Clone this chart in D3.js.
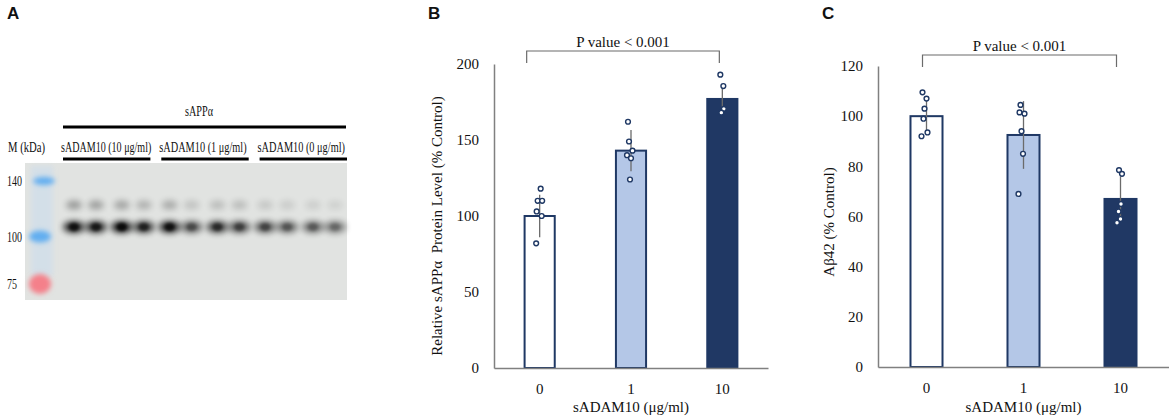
<!DOCTYPE html>
<html>
<head>
  <meta charset="utf-8">
  <script src="https://d3js.org/d3.v7.min.js"></script>
  <style>
  body { margin:0; background:#fff; }
  text { font-family: "Liberation Serif", "Times New Roman", serif; fill:#111; white-space:pre; }
  .panel { font-family: "Liberation Sans", Arial, sans-serif; font-weight:bold; font-size:17px; }
  .axis text { font-size:15px; font-family: "Liberation Serif", serif; fill:#111; }
  .axis path { stroke:#808080; stroke-width:1.5; }
  </style>
</head>
<body>
<script>

  // ---- data ----
  var doses = ["0", "1", "10"];

  var sappMean = [100, 143, 177];
  var sappSd = [14, 13.5, 10];
  var sappPoints = [
    [118, 110, 110, 103, 100, 82],
    [162, 149, 143, 140, 138, 124],
    [193, 185.5, 170.5, 168]
  ];
  var sappTicks = [0, 50, 100, 150, 200];

  var abMean = [100, 92.5, 67];
  var abSd = [7, 13.5, 9];
  var abPoints = [
    [109.5, 107, 103, 99, 93.5, 92],
    [104.5, 101.5, 101, 94, 85, 69],
    [78.5, 77, 65, 62, 59, 57.5]
  ];
  var abTicks = [0, 20, 40, 60, 80, 100, 120];

  // blot
  var groups = ["sADAM10 (10 μg/ml)", "sADAM10 (1 μg/ml)", "sADAM10 (0 μg/ml)"];
  var markerKDa = [140, 100, 75];
  var mainBand = [0.95, 0.9, 1.0, 0.85, 0.95, 0.65, 0.8, 0.7, 0.68, 0.6, 0.58, 0.52];
  var upperBand = [0.32, 0.3, 0.28, 0.22, 0.25, 0.14, 0.17, 0.17, 0.12, 0.1, 0.09, 0.08];

  var barFill = ["#ffffff", "#b4c7e7", "#203864"];
  var navy = "#1f3864";

  var svg = d3.select("body").append("svg")
    .attr("width", 1169)
    .attr("height", 419);

  var defs = svg.append("defs");
  function blur(id, s) {
    defs.append("filter").attr("id", id).attr("x", "-80%").attr("y", "-120%").attr("width", "260%").attr("height", "340%")
      .append("feGaussianBlur").attr("stdDeviation", s);
  }
  blur("blur", 3.4);
  blur("blur2", 2.4);
  blur("blur3", 1.6);

  // squeeze a label horizontally so it spans `w` pixels from x
  function fitText(x, y, w, str) {
    var t = svg.append("text").style("font-size", "15px").text(str);
    var k = w / t.node().getComputedTextLength();
    t.attr("transform", "translate(" + x + "," + y + ") scale(" + k + ",1)");
    return t;
  }

  // ---------- panel A: blot ----------
  svg.append("text").attr("class", "panel").attr("x", 7).attr("y", 19).text("A");

  var kda = d3.scaleLog().domain([75, 140]).range([284, 181]);
  var pair = d3.scalePoint().domain(d3.range(6)).range([85, 324]);
  var laneX = function(i) { return pair(Math.floor(i / 2)) + (i % 2 ? 11 : -11); };

  svg.append("rect").attr("x", 25).attr("y", 163).attr("width", 322).attr("height", 137)
    .attr("fill", "#e1e3e1");
  // faint marker smear
  svg.append("rect").attr("x", 31).attr("y", 166).attr("width", 22).attr("height", 110)
    .attr("fill", "#c9dcee").attr("opacity", 0.55).attr("filter", "url(#blur2)");

  svg.selectAll(".mk").data(markerKDa).enter().append("ellipse")
    .attr("cx", d => d === 140 ? 44 : 40).attr("cy", d => kda(d))
    .attr("rx", 11).attr("ry", d => d === 75 ? 10 : (d === 100 ? 6 : 4))
    .attr("fill", d => d === 75 ? "#f4808a" : "#62aef0")
    .attr("filter", "url(#blur2)");

  markerKDa.forEach(function(d) {
    fitText(7, kda(d) + 5, d === 75 ? 10 : 15, String(d));
  });

  svg.selectAll(".ub").data(upperBand).enter().append("ellipse")
    .attr("cx", (d, i) => laneX(i)).attr("cy", kda(121))
    .attr("rx", 8).attr("ry", 4.5)
    .attr("fill", "#000").attr("opacity", d => d)
    .attr("filter", "url(#blur)");

  svg.selectAll(".mb").data(mainBand).enter().append("ellipse")
    .attr("cx", (d, i) => laneX(i)).attr("cy", kda(106))
    .attr("rx", 11).attr("ry", 6)
    .attr("fill", "#000").attr("opacity", d => d * 0.85)
    .attr("filter", "url(#blur)");

  svg.selectAll(".core").data(mainBand).enter().append("ellipse")
    .attr("cx", (d, i) => laneX(i)).attr("cy", kda(106))
    .attr("rx", 5).attr("ry", 4)
    .attr("fill", "#000").attr("opacity", d => d * d * 0.8)
    .attr("filter", "url(#blur3)");

  fitText(8, 152, 37, "M (kDa)");
  fitText(185, 116, 28, "sAPPα");
  svg.append("line").attr("x1", 63).attr("x2", 346).attr("y1", 127).attr("y2", 127)
    .attr("stroke", "#000").attr("stroke-width", 3);

  var gx = d3.scaleBand().domain(groups).range([61, 350]).paddingInner(0.06);
  groups.forEach(function(d, i) {
    fitText(gx(d), 152, gx.bandwidth() - (i === 0 ? 2 : 5), d);
  });
  svg.selectAll(".gline").data(groups).enter().append("line")
    .attr("x1", d => gx(d) + 2).attr("x2", d => gx(d) + gx.bandwidth() - 3)
    .attr("y1", 159).attr("y2", 159)
    .attr("stroke", "#000").attr("stroke-width", 3);

  // ---------- bar panels ----------
  function barPanel(opt) {
    var g = svg.append("g");
    var x = d3.scaleBand().domain(doses).range([opt.left, opt.right]);
    var y = d3.scaleLinear().domain([0, opt.max]).range([opt.bottom, opt.top]);
    var bw = x.bandwidth() * 0.33;
    var cx = d => x(d) + x.bandwidth() / 2;

    g.append("text").attr("class", "panel").attr("x", opt.letterX).attr("y", 19).text(opt.letter);

    g.selectAll(".bar").data(doses).enter().append("rect")
      .attr("x", d => cx(d) - bw / 2)
      .attr("y", (d, i) => y(opt.mean[i]))
      .attr("width", bw)
      .attr("height", (d, i) => y(0) - y(opt.mean[i]))
      .attr("fill", (d, i) => barFill[i])
      .attr("stroke", navy).attr("stroke-width", 2);

    g.selectAll(".err").data(doses).enter().append("line")
      .attr("x1", cx).attr("x2", cx)
      .attr("y1", (d, i) => y(opt.mean[i] + opt.sd[i]))
      .attr("y2", (d, i) => y(opt.mean[i] - opt.sd[i]))
      .attr("stroke", "#6b6b6b").attr("stroke-width", 1.3);

    doses.forEach(function(d, i) {
      g.selectAll(".pt" + i).data(opt.points[i]).enter().append("circle")
        .attr("cx", (v, j) => cx(d) + opt.jitter[i][j])
        .attr("cy", v => y(v))
        .attr("r", 2.4)
        .attr("fill", "#fff").attr("stroke", navy).attr("stroke-width", 1.4);
    });

    g.append("g").attr("class", "axis")
      .attr("transform", "translate(" + opt.left + ",0)")
      .call(d3.axisLeft(y).tickValues(opt.ticks).tickSize(0).tickPadding(15).tickSizeOuter(0));

    g.append("g").attr("class", "axis")
      .attr("transform", "translate(0," + opt.bottom + ")")
      .call(d3.axisBottom(x).tickSize(0).tickPadding(15).tickSizeOuter(0));

    g.append("text").attr("x", (opt.left + opt.right) / 2).attr("y", 412)
      .attr("text-anchor", "middle").style("font-size", "15px").text("sADAM10 (μg/ml)");

    g.append("text")
      .attr("transform", "translate(" + opt.labelX + "," + opt.labelY + ") rotate(-90)")
      .attr("text-anchor", "middle").attr("dy", "0.35em").style("font-size", "15px")
      .text(opt.ylabel);

    // significance bracket
    var bx1 = cx(doses[0]) - opt.brL, bx2 = cx(doses[2]) - opt.brR;
    g.append("path")
      .attr("d", "M" + bx1 + "," + (opt.brY + 12) + "V" + opt.brY + "H" + bx2 + "V" + (opt.brY + 12))
      .attr("fill", "none").attr("stroke", "#6b6b6b").attr("stroke-width", 1.2);
    g.append("text").attr("x", (bx1 + bx2) / 2).attr("y", opt.brY - 4)
      .attr("text-anchor", "middle").style("font-size", "15px").text("P value < 0.001");
  }

  barPanel({
    letter: "B", letterX: 428,
    left: 494, right: 768, top: 64, bottom: 368, max: 200,
    mean: sappMean, sd: sappSd, points: sappPoints, ticks: sappTicks,
    jitter: [[1, -2, 2.5, -3, 2, -3.5], [-3, -2, 1.5, -4, 0, -1], [-2, 1, 1.5, -1]],
    ylabel: "Relative sAPPα  Protein Level (% Control)", labelX: 437, labelY: 226,
    brY: 51, brL: 13, brR: 3
  });

  barPanel({
    letter: "C", letterX: 822,
    left: 878, right: 1169, top: 66, bottom: 367, max: 120,
    mean: abMean, sd: abSd, points: abPoints, ticks: abTicks,
    jitter: [[-4, 0, -2, -3, 1, -5], [-3, -4, 1, -2, -0.5, -5], [-1.5, 1.5, 0.5, -2, 0, -3.5]],
    ylabel: "Aβ42 (% Control)", labelX: 829, labelY: 222,
    brY: 55, brL: 4, brR: 4
  });

</script>
</body>
</html>
